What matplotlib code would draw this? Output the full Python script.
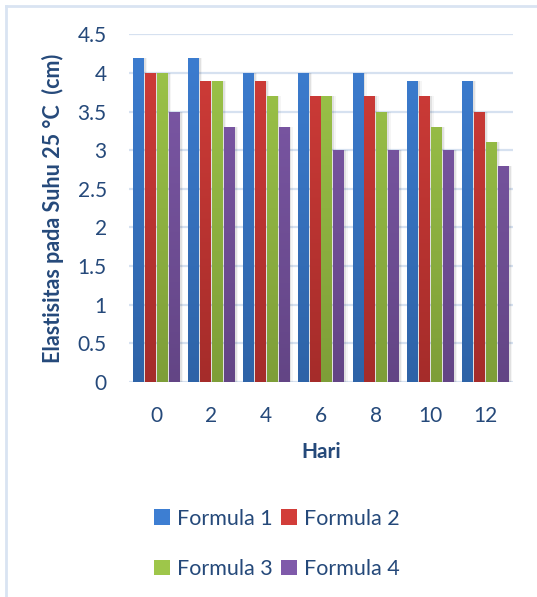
import numpy as np
import matplotlib
matplotlib.use("Agg")
import matplotlib.pyplot as plt
from matplotlib.colors import LinearSegmentedColormap
from matplotlib.patches import Patch
from matplotlib.lines import Line2D

# Data
days = ["0", "2", "4", "6", "8", "10", "12"]
formula_1 = [4.2, 4.2, 4.0, 4.0, 4.0, 3.9, 3.9]
formula_2 = [4.0, 3.9, 3.9, 3.7, 3.7, 3.7, 3.5]
formula_3 = [4.0, 3.9, 3.7, 3.7, 3.5, 3.3, 3.1]
formula_4 = [3.5, 3.3, 3.3, 3.0, 3.0, 3.0, 2.8]
series_names = ["Formula 1", "Formula 2", "Formula 3", "Formula 4"]
y_ticks = [0, 0.5, 1, 1.5, 2, 2.5, 3, 3.5, 4, 4.5]

# (top, bottom) gradient colours for each series
grad_colors = [("#3D7ED2", "#2E63A7"),
               ("#D23D39", "#A52C2A"),
               ("#9EC64A", "#7E9E38"),
               ("#7F5AAA", "#634585")]

text_color = "#25497A"
grid_color = "#D6E1F0"

plt.rcParams["font.family"] = ["Lato", "DejaVu Sans"]

fig = plt.figure(figsize=(5.37, 5.97), dpi=100)
ax = fig.add_axes([0.2402, 0.3601, 0.7151, 0.5824])

x = np.arange(len(days))
bar_w = 0.2
step = 0.217
all_series = [formula_1, formula_2, formula_3, formula_4]

for i, vals in enumerate(all_series):
    pos = x + (i - 1.5) * step
    top_c, bot_c = grad_colors[i]
    cmap = LinearSegmentedColormap.from_list(f"g{i}", [bot_c, top_c])
    # soft drop shadow
    ax.bar(pos + 0.035, vals, width=bar_w, color="#000000", alpha=0.08,
           zorder=2, linewidth=0)
    ax.bar(pos + 0.06, vals, width=bar_w, color="#000000", alpha=0.04,
           zorder=2, linewidth=0)
    bars = ax.bar(pos, vals, width=bar_w, color=top_c, zorder=3, linewidth=0)
    grad = np.linspace(0, 1, 256).reshape(-1, 1)
    for b in bars:
        x0 = b.get_x()
        im = ax.imshow(grad, cmap=cmap, origin="lower", aspect="auto",
                       extent=[x0, x0 + bar_w, 0, 4.5], zorder=4,
                       vmin=0, vmax=1)
        im.set_clip_path(b)

ax.set_xlim(-0.5, len(days) - 0.5)
ax.set_ylim(0, 4.5)
ax.set_xticks(x)
ax.set_xticklabels(days)
ax.set_yticks(y_ticks)
ax.set_yticklabels([f"{t:g}" for t in y_ticks])

ax.yaxis.grid(True, color=grid_color, linewidth=1.6, zorder=1)
ax.set_axisbelow(True)
for s in ax.spines.values():
    s.set_visible(False)
ax.tick_params(axis="both", length=0, labelsize=15, labelcolor=text_color)
ax.tick_params(axis="x", pad=17)
ax.tick_params(axis="y", pad=16)

ax.set_xlabel("Hari", fontsize=15, fontweight="bold", color=text_color,
              labelpad=12)
ax.set_ylabel("Elastisitas pada Suhu 25 °C  (cm)", fontsize=15.5,
              fontweight="bold", color=text_color, labelpad=10)

# Legend, filled row by row
order = [0, 2, 1, 3]
handles = [Patch(facecolor=grad_colors[k][0], edgecolor="none") for k in order]
labels = [series_names[k] for k in order]
leg = fig.legend(handles, labels, ncol=2, frameon=False,
                 loc="upper left", bbox_to_anchor=(0.287, 0.148),
                 fontsize=15.5, labelcolor=text_color, handlelength=0.75,
                 handleheight=0.72, handletextpad=0.3, columnspacing=0.4,
                 labelspacing=1.4, borderpad=0, borderaxespad=0)

# Chart area border (top and left edges)
fig.add_artist(Line2D([5.5 / 537, 1], [1 - 5.5 / 597] * 2,
                      transform=fig.transFigure, color="#D9E4F2", lw=2))
fig.add_artist(Line2D([5.5 / 537] * 2, [0, 1 - 5.5 / 597],
                      transform=fig.transFigure, color="#D9E4F2", lw=2))

fig.savefig("out.png", dpi=100, facecolor="white")
